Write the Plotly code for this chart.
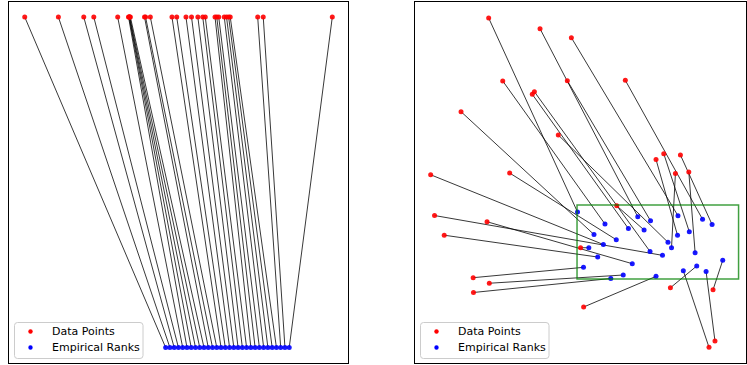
import numpy as np
import plotly.graph_objects as go

# ---------------- data ----------------
# Left panel: one-dimensional sample (drawn on the top row) and its empirical ranks (bottom row)
sample_1d = [-1.035, -0.780, -0.588, -0.512, -0.331, -0.249, -0.245, -0.243, -0.240, -0.235,
             -0.128, -0.120, -0.084, 0.080, 0.116, 0.186, 0.228, 0.276, 0.313, 0.332,
             0.406, 0.419, 0.434, 0.476, 0.493, 0.509, 0.521, 0.729, 0.771, 1.294]
DATA_ROW = 1.0
RANK_ROW = 0.0

# Right panel: two-dimensional sample and its empirical ranks
data_x = [-0.547, -0.229, -0.035, -0.460, -0.060, 0.299, -0.718, -0.264, -0.277, -0.116,
          0.537, 0.489, 0.640, 0.609, 0.692, -0.906, -0.417, -0.882, -0.557, -0.822,
          0.246, 0.022, -0.643, -0.543, -0.641, 0.041, 0.578, 0.842, 0.817, 0.854]
data_y = [3.527, 3.382, 3.261, 2.676, 2.680, 2.685, 2.261, 2.531, 2.496, 1.946,
          1.693, 1.615, 1.676, 1.426, 1.446, 1.409, 1.432, 0.858, 0.774, 0.592,
          0.989, 0.423, 0.018, -0.057, -0.182, -0.378, -0.118, -0.145, -0.923, -0.838]
rank_x = [0.003, 0.376, 0.625, 0.173, 0.455, 0.777, 0.105, 0.452, 0.318, 0.563,
          0.695, 0.622, 0.836, 0.585, 0.731, 0.163, 0.243, 0.529, 0.342, 0.128,
          0.415, 0.073, 0.040, 0.286, 0.209, 0.489, 0.741, 0.902, 0.658, 0.799]
rank_y = [0.905, 0.842, 0.855, 0.743, 0.788, 0.807, 0.601, 0.372, 0.682, 0.496,
          0.639, 0.591, 0.736, 0.423, 0.355, 0.466, 0.531, 0.320, 0.207, 0.297,
          0.662, 0.423, 0.158, 0.054, 0.007, 0.036, 0.176, 0.253, 0.112, 0.101]
unit_box = [0.0, 1.0, 0.0, 1.0]   # x0, x1, y0, y1

legend_labels = ["Data Points", "Empirical Ranks"]
legend_colors = ["red", "blue"]

# empirical ranks of the 1-D sample
s = np.asarray(sample_1d)
ranks_1d = (np.argsort(np.argsort(s)) + 1) / (len(s) + 1)

# ---------------- figure ----------------
W, H = 747, 365
fig = go.Figure()

LINE_COLOR = "rgba(0,0,0,0.78)"
FONT = "DejaVu Sans, Liberation Sans, sans-serif"
MS = 5

# left panel connecting lines
lx, ly = [], []
for d, r in zip(s, ranks_1d):
    lx += [d, r, None]
    ly += [DATA_ROW, RANK_ROW, None]
fig.add_trace(go.Scatter(x=lx, y=ly, mode="lines", line=dict(color=LINE_COLOR, width=1),
                         showlegend=False, hoverinfo="skip", xaxis="x", yaxis="y"))
fig.add_trace(go.Scatter(x=s, y=[DATA_ROW] * len(s), mode="markers", name=legend_labels[0],
                         marker=dict(color=legend_colors[0], size=MS, opacity=0.9),
                         showlegend=False, xaxis="x", yaxis="y"))
fig.add_trace(go.Scatter(x=ranks_1d, y=[RANK_ROW] * len(s), mode="markers", name=legend_labels[1],
                         marker=dict(color=legend_colors[1], size=MS, opacity=0.9),
                         showlegend=False, xaxis="x", yaxis="y"))

# right panel connecting lines
rx, ry = [], []
for a, b, c, d in zip(data_x, data_y, rank_x, rank_y):
    rx += [a, c, None]
    ry += [b, d, None]
fig.add_trace(go.Scatter(x=rx, y=ry, mode="lines", line=dict(color=LINE_COLOR, width=1),
                         showlegend=False, hoverinfo="skip", xaxis="x2", yaxis="y2"))
fig.add_trace(go.Scatter(x=data_x, y=data_y, mode="markers", name=legend_labels[0],
                         marker=dict(color=legend_colors[0], size=MS, opacity=0.9),
                         showlegend=False, xaxis="x2", yaxis="y2"))
fig.add_trace(go.Scatter(x=rank_x, y=rank_y, mode="markers", name=legend_labels[1],
                         marker=dict(color=legend_colors[1], size=MS, opacity=0.9),
                         showlegend=False, xaxis="x2", yaxis="y2"))

fig.add_shape(type="rect", xref="x2", yref="y2",
              x0=unit_box[0], x1=unit_box[1], y0=unit_box[2], y1=unit_box[3],
              line=dict(color="rgba(0,128,0,0.75)", width=1.5), fillcolor="rgba(0,0,0,0)")


# ---- matplotlib-style legends (drawn in pixel space, converted to paper coords) ----
def px(x):
    return x / W


def py(y):
    return 1 - y / H


def rounded_box(x0, y0, x1, y1, r=3):
    return (f"M {px(x0 + r)},{py(y0)} L {px(x1 - r)},{py(y0)} "
            f"Q {px(x1)},{py(y0)} {px(x1)},{py(y0 + r)} L {px(x1)},{py(y1 - r)} "
            f"Q {px(x1)},{py(y1)} {px(x1 - r)},{py(y1)} L {px(x0 + r)},{py(y1)} "
            f"Q {px(x0)},{py(y1)} {px(x0)},{py(y1 - r)} L {px(x0)},{py(y0 + r)} "
            f"Q {px(x0)},{py(y0)} {px(x0 + r)},{py(y0)} Z")


for box_left in (14.5, 420.5):
    top, bottom = 322.5, 358.5
    fig.add_shape(type="path", xref="paper", yref="paper",
                  path=rounded_box(box_left, top, box_left + 128.5, bottom),
                  line=dict(color="#cccccc", width=1), fillcolor="rgba(255,255,255,0.85)",
                  layer="above")
    for k, (lab, col) in enumerate(zip(legend_labels, legend_colors)):
        cy = 331.5 + 16 * k
        cx = box_left + 16
        fig.add_shape(type="circle", xref="paper", yref="paper",
                      x0=px(cx - 2.2), x1=px(cx + 2.2), y0=py(cy + 2.2), y1=py(cy - 2.2),
                      fillcolor=col, line=dict(width=0), layer="above")
        fig.add_annotation(xref="paper", yref="paper", x=px(box_left + 35.5), y=py(cy),
                           xanchor="left", yanchor="middle", text=lab, showarrow=False,
                           font=dict(family=FONT, size=11, color="black"))

ydom = [1 - 362.5 / H, 1 - 1.5 / H]
ax_common = dict(showgrid=False, zeroline=False, showticklabels=False, ticks="",
                 showline=True, mirror=True, linecolor="black", linewidth=1)

fig.update_layout(
    width=W, height=H,
    margin=dict(l=0, r=0, t=0, b=0),
    paper_bgcolor="white", plot_bgcolor="white",
    font=dict(family=FONT, size=11, color="black"),
    showlegend=False,
    xaxis=dict(domain=[9 / W, 347.5 / W], range=[-1.154, 1.409], anchor="y", **ax_common),
    yaxis=dict(domain=ydom, range=[-0.045, 1.047], anchor="x", **ax_common),
    xaxis2=dict(domain=[415 / W, 746 / W], range=[-1.003, 1.046], anchor="y2", **ax_common),
    yaxis2=dict(domain=ydom, range=[-1.128, 3.75], anchor="x2", **ax_common),
)

fig.write_html("out.html", config={"displayModeBar": False},
               post_script="document.body.style.margin='0';document.body.style.padding='0';")
